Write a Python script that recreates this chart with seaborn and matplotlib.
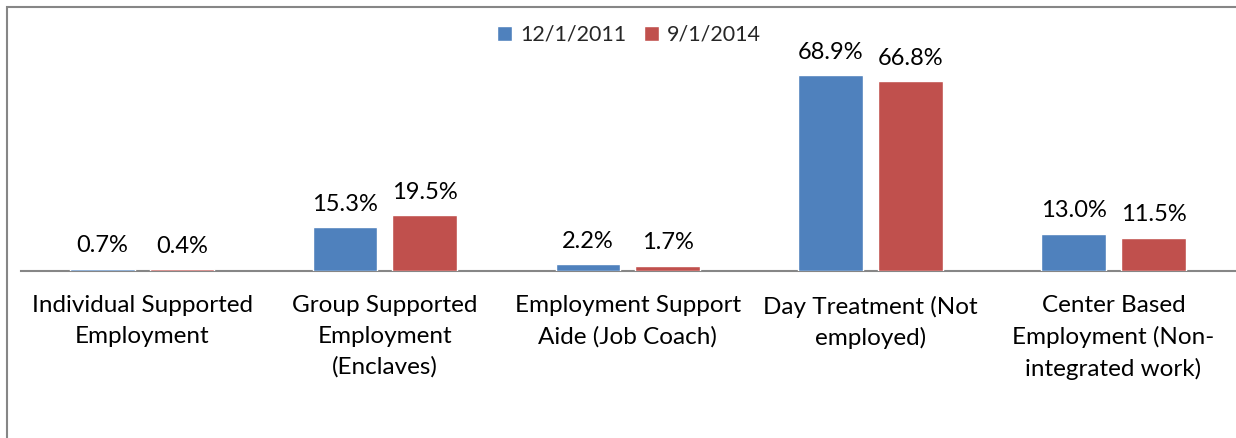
import matplotlib
matplotlib.use("Agg")
import matplotlib.pyplot as plt
import seaborn as sns
import pandas as pd
from matplotlib.patches import Rectangle

categories = ["Individual Supported\nEmployment",
              "Group Supported\nEmployment\n(Enclaves)",
              "Employment Support\nAide (Job Coach)",
              "Day Treatment (Not\nemployed)",
              "Center Based\nEmployment (Non-\nintegrated work)"]
series_names = ["12/1/2011", "9/1/2014"]
values_2011 = [0.7, 15.3, 2.2, 68.9, 13.0]
values_2014 = [0.4, 19.5, 1.7, 66.8, 11.5]
colors = ["#4F81BD", "#C0504D"]

df = pd.DataFrame({
    "category": categories * 2,
    "series": [series_names[0]] * 5 + [series_names[1]] * 5,
    "value": values_2011 + values_2014,
})

sns.set_theme(style="white")
plt.rcParams["font.family"] = ["Lato", "DejaVu Sans"]

W, H = 1236, 438
fig = plt.figure(figsize=(W / 100, H / 100), dpi=100)
left_px, right_px = 20.6, 1235.0
base_px, top_px = 270.5, 29.5
ax = fig.add_axes([left_px / W, (H - base_px) / H,
                   (right_px - left_px) / W, (base_px - top_px) / H])

sns.barplot(data=df, x="category", y="value", hue="series",
            palette=colors, width=0.657, gap=0.188, ax=ax,
            saturation=1, errorbar=None, legend=True)

ax.set_ylim(0, 85)
ax.set_xlim(-0.5, 4.5)
ax.set_xlabel("")
ax.set_ylabel("")
ax.set_yticks([])
for s in ["top", "right", "left"]:
    ax.spines[s].set_visible(False)
ax.spines["bottom"].set_color("#868686")
ax.spines["bottom"].set_linewidth(1.5)
ax.spines["bottom"].set_zorder(0.5)
ax.tick_params(axis="x", length=0, pad=18, labelsize=17.5, labelcolor="black")
for lbl in ax.get_xticklabels():
    lbl.set_linespacing(1.54)

for cont in ax.containers:
    ax.bar_label(cont, fmt="%.1f%%", padding=9, fontsize=17, color="black")

leg = ax.legend(loc="upper center", bbox_to_anchor=(0.501, 1.1), ncol=2,
                frameon=False, fontsize=15.5, handlelength=0.7, handleheight=0.7,
                handletextpad=0.4, columnspacing=0.8)

fig.patches.append(Rectangle((6.5 / W, -0.1), 1.2, (H - 7.5) / H + 0.1,
                             transform=fig.transFigure, fill=False,
                             edgecolor="#868686", linewidth=1.5))

fig.savefig("out.png", dpi=100)
